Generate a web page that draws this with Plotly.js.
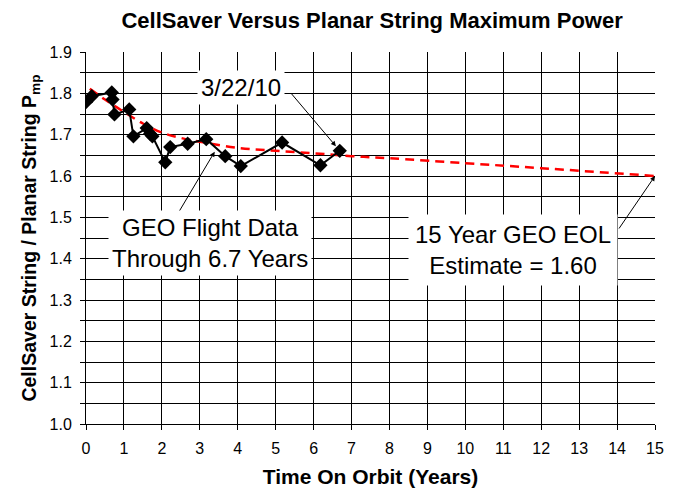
<!DOCTYPE html>
<html><head><meta charset="utf-8">
<script src="https://cdn.plot.ly/plotly-3.0.1.min.js"></script>
<style>html,body{margin:0;padding:0;background:#fff}#c{width:679px;height:491px}</style>
</head><body><div id="c"></div>
<script>
const flightYears = [0.0, 0.15, 0.68, 0.70, 0.75, 1.14, 1.25, 1.60, 1.69, 1.75, 2.09, 2.22, 2.68, 3.17, 3.67, 4.08, 5.17, 6.18, 6.69];
const flightRatio = [1.779, 1.793, 1.802, 1.785, 1.749, 1.761, 1.696, 1.716, 1.702, 1.696, 1.633, 1.670, 1.678, 1.689, 1.648, 1.624, 1.681, 1.626, 1.661];
const trendYears = [0.1, 0.5, 1, 1.5, 2, 2.5, 3, 4, 5, 6, 7, 8, 10, 12, 15];
const trendRatio = [1.811, 1.785, 1.755, 1.727, 1.705, 1.692, 1.683, 1.668, 1.661, 1.655, 1.648, 1.643, 1.631, 1.619, 1.600];
const xTicks = [0,1,2,3,4,5,6,7,8,9,10,11,12,13,14,15];
const yTicks = [1.0,1.1,1.2,1.3,1.4,1.5,1.6,1.7,1.8,1.9];

const F = "Liberation Sans, Arial, sans-serif";
const traces = [
  {x: trendYears, y: trendRatio, mode: 'lines', line: {color: '#ff0000', width: 2.5, dash: '9px,6px', shape: 'spline'}, hoverinfo: 'skip'},
  {x: flightYears, y: flightRatio, mode: 'lines+markers', line: {color: '#000', width: 2},
   marker: {symbol: 'diamond', size: 11, color: '#000'}}
];
const layout = {
  width: 679, height: 491, showlegend: false,
  paper_bgcolor: '#fff', plot_bgcolor: '#fff',
  margin: {l: 86, r: 24, t: 52, b: 67},
  font: {family: F, color: '#000', size: 16},
  title: {text: 'CellSaver Versus Planar String Maximum Power', font: {family: F, size: 22, weight: 'bold', color: '#000'}, x: 0.548, xanchor: 'center', y: 0.958, yanchor: 'middle'},
  xaxis: {range: [0, 15], tickvals: xTicks, ticktext: xTicks.map(String), showgrid: true, gridcolor: '#000', gridwidth: 1,
    zeroline: false, showline: true, linecolor: '#000', linewidth: 1, ticks: 'outside', ticklen: 5, tickcolor: '#000',
    tickfont: {family: F, size: 16}, ticklabelstandoff: 5,
    title: {text: 'Time On Orbit (Years)', font: {family: F, size: 21, weight: 'bold'}, standoff: 13}},
  yaxis: {range: [1.0, 1.9], tickvals: yTicks, ticktext: yTicks.map(v => v.toFixed(1)), showgrid: true, gridcolor: '#000', gridwidth: 1,
    zeroline: false, showline: true, linecolor: '#000', linewidth: 1, ticks: 'outside', ticklen: 5, tickcolor: '#000',
    tickfont: {family: F, size: 16}, ticklabelstandoff: 5,
    minor: {dtick: 0.05, tick0: 1.0, showgrid: true, gridcolor: '#000', gridwidth: 1, ticks: 'outside', ticklen: 5, tickcolor: '#000'},
    title: {text: 'CellSaver String / Planar String P<sub>mp</sub>', font: {family: F, size: 19.5, weight: 'bold'}, standoff: 7}},
  annotations: [
    {x: 6.69, y: 1.661, ax: 290, ay: 92, axref: 'pixel', ayref: 'pixel', xref: 'x', yref: 'y',
     text: '', showarrow: true, arrowhead: 2, arrowsize: 1, arrowwidth: 1, arrowcolor: '#000', standoff: 6},
    {x: 4.08, y: 1.815, xref: 'x', yref: 'y', text: '3/22/10', showarrow: false, bgcolor: '#fff',
     font: {family: F, size: 24}, borderpad: 3},
    {x: 3.42, y: 1.663, ax: 177, ay: 215, axref: 'pixel', ayref: 'pixel', xref: 'x', yref: 'y',
     text: '', showarrow: true, arrowhead: 2, arrowsize: 1, arrowwidth: 1, arrowcolor: '#000', standoff: 2},
    {x: 3.26, y: 1.437, xref: 'x', yref: 'y', text: 'GEO Flight Data<br>Through 6.7 Years', showarrow: false, bgcolor: '#fff',
     font: {family: F, size: 24}, borderpad: 3},
    {x: 15, y: 1.60, ax: 618, ay: 230, axref: 'pixel', ayref: 'pixel', xref: 'x', yref: 'y',
     text: '', showarrow: true, arrowhead: 2, arrowsize: 1, arrowwidth: 1, arrowcolor: '#000', standoff: 0},
    {x: 11.25, y: 1.42, xref: 'x', yref: 'y', text: '15 Year GEO EOL<br>Estimate = 1.60', showarrow: false, bgcolor: '#fff',
     font: {family: F, size: 24}, borderpad: 6}
  ]
};
layout.annotations.forEach(a => {
  if (a.axref === 'pixel') {
    const px = 86 + (a.x - 0) / 15 * (679 - 86 - 24);
    const py = 52 + (1.9 - a.y) / 0.9 * (491 - 52 - 67);
    a.ax = a.ax - px; a.ay = a.ay - py;
    delete a.axref; delete a.ayref;
  }
});
Plotly.newPlot('c', traces, layout, {displayModeBar: false, staticPlot: true});
</script></body></html>
